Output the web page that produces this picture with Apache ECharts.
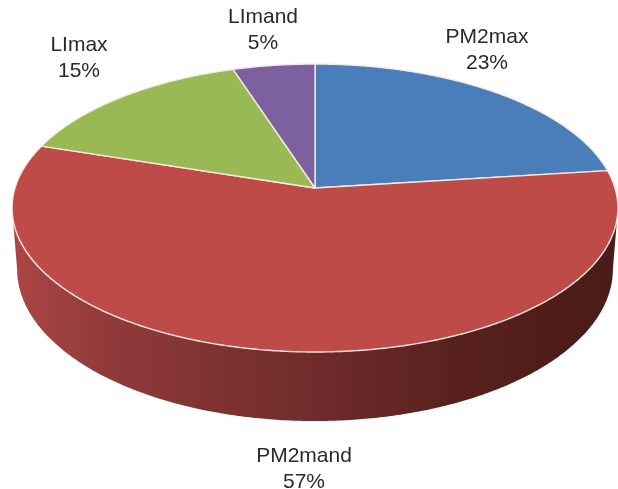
<!DOCTYPE html>
<html>
<head>
<meta charset="utf-8">
<title>Pie</title>
<script src="https://cdn.jsdelivr.net/npm/echarts@6/dist/echarts.min.js"></script>
<style>
html, body { margin: 0; padding: 0; background: #fff; }
#chart { width: 618px; height: 489px; }
</style>
</head>
<body>
<div id="chart"></div>
<script>
var categories = ["PM2max", "PM2mand", "LImax", "LImand"];
var shares = [23, 57, 15, 5];
var sliceColors = ["#4a7ebb", "#be4b48", "#98b954", "#7d60a0"];

// label centres, px
var labelX = [487, 304, 79, 263];
var labelY = [50, 469, 58, 30];

// the pie is a disc seen in perspective, top face and lower rim
var persp = 0.139;
var topFace = { cx: 315, cy: 188, rx: 300, ry: 141.2 };
var lowFace = { cx: 315, cy: 248, rx: 295, ry: 149 };
// front of the wall is only visible between these angles
var wallFrom = 98, wallTo = 262;

var total = shares.reduce(function (a, b) { return a + b; }, 0);

function project(face, deg) {
	var t = deg * Math.PI / 180;
	var w = 1 / (1 + persp * Math.cos(t));
	return [face.cx + face.rx * Math.sin(t) * w, face.cy - face.ry * Math.cos(t) * w];
}

function arc(face, from, to) {
	var pts = [];
	var n = Math.max(2, Math.ceil(Math.abs(to - from) * 2));
	for (var i = 0; i <= n; i++) {
		pts.push(project(face, from + (to - from) * i / n));
	}
	return pts;
}

var wallFill = new echarts.graphic.LinearGradient(0, 0, 1, 0, [
	{ offset: 0, color: "#ac4645" },
	{ offset: 0.15, color: "#913a3a" },
	{ offset: 0.5, color: "#6f2b2b" },
	{ offset: 0.75, color: "#57201d" },
	{ offset: 1, color: "#491b17" }
]);

function renderSlice(params, api) {
	var i = params.dataIndex;
	var from = api.value(1) / total * 360;
	var to = from + api.value(0) / total * 360;
	var children = [];

	var a = Math.max(from, wallFrom), b = Math.min(to, wallTo);
	if (a < b) {
		children.push({
			type: "polygon",
			shape: { points: arc(topFace, a, b).concat(arc(lowFace, b, a)) },
			style: { fill: wallFill, stroke: null }
		});
	}

	children.push({
		type: "polygon",
		shape: { points: [[topFace.cx, topFace.cy]].concat(arc(topFace, from, to)) },
		style: { fill: sliceColors[i], stroke: "#f6e9e2", lineWidth: 1.4, lineJoin: "round" }
	});

	children.push({
		type: "text",
		style: {
			text: categories[i] + "\n" + api.value(0) + "%",
			x: labelX[i],
			y: labelY[i],
			fill: "#2a2a2a",
			fontFamily: "Liberation Sans",
			fontSize: 21,
			lineHeight: 26,
			align: "center",
			verticalAlign: "middle"
		}
	});

	return { type: "group", children: children };
}

var seriesData = [];
var running = 0;
for (var k = 0; k < shares.length; k++) {
	seriesData.push([shares[k], running]);
	running += shares[k];
}

var chart = echarts.init(document.getElementById("chart"));
chart.setOption({
	animation: false,
	backgroundColor: "#fff",
	series: [{
		type: "custom",
		coordinateSystem: "none",
		silent: true,
		renderItem: renderSlice,
		data: seriesData
	}]
});
</script>
</body>
</html>
